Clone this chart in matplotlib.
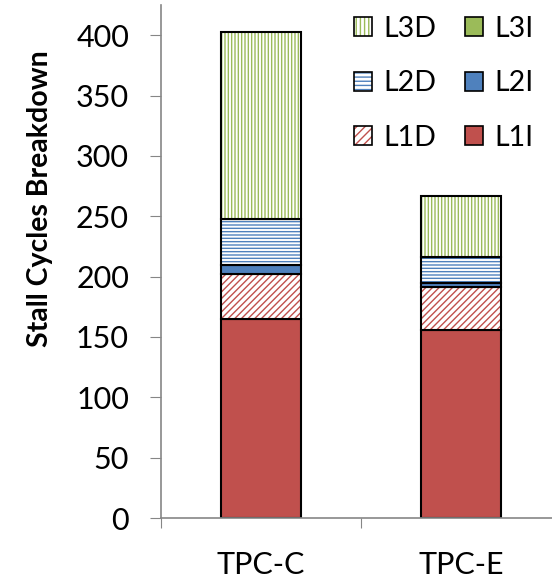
import numpy as np
import matplotlib.pyplot as plt
from matplotlib.patches import Patch
from matplotlib.legend_handler import HandlerTuple

plt.rcParams['font.family'] = ['Lato', 'DejaVu Sans']
plt.rcParams['hatch.linewidth'] = 1.0

workloads = ["TPC-C", "TPC-E"]
l1i = [165, 156]
l1d = [37.5, 35]
l2i = [7.5, 3.5]
l2d = [38, 21.5]
l3i = [0, 0]
l3d = [155, 51]

# (name, values, colour, hatch) in stacking order, bottom first
layers = [
    ("L1I", l1i, "#C0504D", None),
    ("L1D", l1d, "#C0504D", "/////"),
    ("L2I", l2i, "#4F81BD", None),
    ("L2D", l2d, "#4F81BD", "-----"),
    ("L3I", l3i, "#9BBB59", None),
    ("L3D", l3d, "#9BBB59", "|||||"),
]

fig = plt.figure(figsize=(5.52, 5.82), dpi=100)
ax = fig.add_axes([161/552, 64/582, 400/552, 513/582])

x = np.arange(len(workloads))
width = 0.4
bottom = np.zeros(len(workloads))
handles = {}
for name, vals, col, hatch in layers:
    vals = np.array(vals, dtype=float)
    if hatch:
        # hatch drawn in the series colour, outline in black on top
        ax.bar(x, vals, width, bottom=bottom, facecolor="white",
               edgecolor=col, hatch=hatch, linewidth=0)
        ax.bar(x, vals, width, bottom=bottom, fill=False,
               edgecolor="black", linewidth=1.5)
        h = (Patch(facecolor="white", edgecolor=col, hatch=hatch[:4], linewidth=0),
             Patch(fill=False, edgecolor="black", linewidth=1.2))
    else:
        ax.bar(x, vals, width, bottom=bottom, color=col,
               edgecolor="black", linewidth=1.5)
        h = Patch(facecolor=col, edgecolor="black", linewidth=1.2)
    handles[name] = h
    bottom += vals

ax.set_xlim(-0.5, 1.5)
ax.set_ylim(0, 425)
ax.set_yticks(np.arange(0, 401, 50))
ax.set_xticks([-0.5, 0.5, 1.5])
ax.set_xticklabels([])
ax.set_xticks(x, minor=True)
ax.set_xticklabels(workloads, minor=True)
ax.tick_params(axis="x", which="minor", length=0, pad=24, labelsize=22)
ax.tick_params(axis="x", which="major", length=7.5, direction="out", color="#868686")
ax.tick_params(axis="y", length=8, direction="out", color="#868686", labelsize=22, pad=15)

for s in ["top", "right"]:
    ax.spines[s].set_visible(False)
for s in ["left", "bottom"]:
    ax.spines[s].set_color("#868686")
    ax.spines[s].set_linewidth(1.2)

ax.set_ylabel("Stall Cycles Breakdown", fontsize=20.5, fontweight="bold")
ax.yaxis.set_label_coords(-108/400, (518 - 199)/513)

order = ["L3D", "L2D", "L1D", "L3I", "L2I", "L1I"]
leg = fig.legend([handles[n] for n in order], order, ncol=2, fontsize=20.5,
                 loc="upper right", bbox_to_anchor=(554/552, 1.007),
                 frameon=False, handlelength=0.65, handleheight=0.65,
                 handletextpad=0.4, columnspacing=1.0, labelspacing=1.0,
                 borderaxespad=0.3,
                 handler_map={tuple: HandlerTuple(ndivide=1)})

fig.savefig("out.png", dpi=100)
